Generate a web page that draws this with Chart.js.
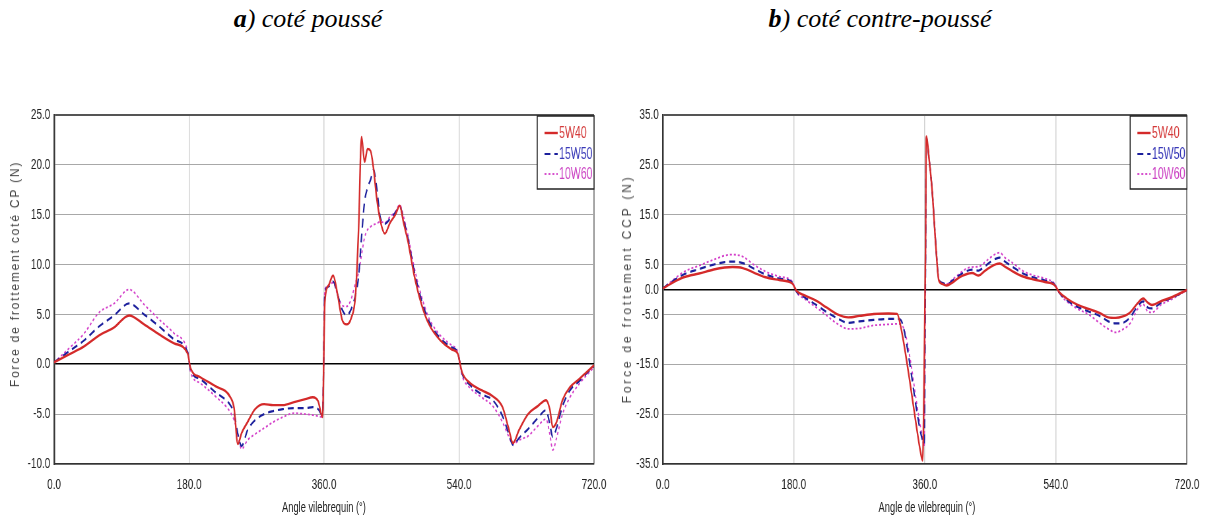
<!DOCTYPE html>
<html>
<head>
<meta charset="utf-8">
<script src="https://cdn.jsdelivr.net/npm/chart.js@4.4.1/dist/chart.umd.min.js"></script>
<style>
  html, body { margin: 0; padding: 0; background: #fff; }
  #page { position: relative; width: 1207px; height: 517px; overflow: hidden; background: #fff; }
  .title { position: absolute; top: 4px; font-family: 'Liberation Serif', 'Times New Roman', serif;
           font-style: italic; font-size: 26px; color: #000; white-space: nowrap; transform: translateX(-50%); }
  .title b { font-weight: bold; }
  .wrap { position: absolute; top: 100px; transform: scaleX(0.66); transform-origin: 0 0; }
  .ytitle { position: absolute; font-family: 'Liberation Sans', Arial, sans-serif; font-size: 12px;
            color: #444; white-space: nowrap; transform: translate(-50%, -50%) rotate(-90deg); }
  .xtitle { position: absolute; top: 498px; font-family: 'Liberation Sans', Arial, sans-serif; font-size: 15px;
            color: #222; white-space: nowrap; transform: translateX(-50%) scaleX(0.62); }
</style>
</head>
<body>
<div id="page">
  <div class="title" style="left:308px"><b>a</b>) coté poussé</div>
  <div class="title" style="left:880px"><b>b</b>) coté contre-poussé</div>

  <div class="wrap" style="left:0px"><canvas id="chartA" width="939" height="417"></canvas></div>
  <div class="wrap" style="left:600px"><canvas id="chartB" width="920" height="417"></canvas></div>

  <div class="ytitle" style="left:15px;top:274px;letter-spacing:1.8px">Force de frottement coté CP (N)</div>
  <div class="ytitle" style="left:627px;top:289px;letter-spacing:2.8px">Force de frottement CCP (N)</div>
  <div class="xtitle" style="left:324px">Angle vilebrequin (°)</div>
  <div class="xtitle" style="left:927px">Angle de vilebrequin (°)</div>
</div>

<script>
// Crank angle (deg) and friction force (N) — thrust side
const anglesA = [0, 20, 40, 60, 80, 100, 120, 140, 160, 178,
  182, 195, 215, 235, 240, 245, 250, 258, 268, 280,
  292, 305, 320, 335, 345, 352, 358, 361, 366, 372,
  378, 384, 390, 396, 402, 406, 410, 414, 418, 422,
  426, 430, 435, 441, 448, 455, 461, 466, 472, 480,
  490, 500, 515, 530, 538, 544, 555, 570, 585, 598,
  606, 612, 620, 632, 645, 656, 661, 665, 670, 678,
  688, 700, 710, 720];
const a5W40 = [0.2, 1.0, 1.8, 2.9, 3.7, 4.9, 4.0, 3.0, 2.1, 1.1,
  -0.4, -1.3, -2.2, -3.3, -4.4, -8.0, -6.9, -5.8, -4.5, -4.0,
  -4.1, -4.1, -3.8, -3.5, -3.3, -3.7, -5.3, 6.2, 7.9, 8.9,
  7.0, 4.5, 4.0, 4.6, 7.0, 13.5, 22.8, 20.3, 21.6, 21.4,
  19.6, 16.8, 14.4, 13.1, 14.2, 15.0, 15.9, 14.2, 12.3, 9.0,
  6.0, 4.0, 2.4, 1.5, 1.1, -0.8, -1.9, -2.6, -3.2, -4.3,
  -6.4, -7.9, -6.6, -5.0, -4.2, -3.6, -4.5, -6.3, -5.8, -3.6,
  -2.3, -1.5, -0.8, -0.1];
const a15W50 = [0.2, 1.3, 2.4, 3.8, 4.9, 6.1, 5.0, 3.8, 2.5, 1.2,
  -0.6, -1.5, -2.8, -4.1, -4.9, -7.0, -8.2, -6.6, -5.6, -5.0,
  -4.7, -4.5, -4.4, -4.4, -4.3, -4.5, -5.1, 7.2, 7.8, 8.3,
  7.0, 5.5, 4.9, 5.5, 7.0, 8.8, 12.8, 16.3, 17.7, 18.5,
  19.5, 17.8, 14.7, 14.1, 14.6, 15.2, 15.8, 14.5, 12.6, 9.4,
  6.4, 4.3, 2.6, 1.7, 1.2, -0.9, -2.1, -3.0, -3.6, -5.2,
  -6.9, -8.1, -7.4, -6.5, -5.4, -4.6, -6.0, -7.3, -6.4, -4.2,
  -2.6, -1.7, -0.9, -0.2];
const a10W60 = [0.2, 1.6, 3.1, 5.2, 6.1, 7.5, 6.0, 4.5, 3.1, 1.3,
  -0.8, -1.9, -3.2, -4.8, -5.6, -7.0, -8.5, -7.6, -7.0, -6.4,
  -5.8, -5.3, -4.9, -5.0, -5.1, -5.2, -5.3, 7.5, 7.9, 8.2,
  7.0, 5.9, 5.8, 6.5, 8.2, 9.2, 11.0, 12.7, 13.5, 13.8,
  14.0, 14.1, 14.3, 14.2, 14.8, 15.3, 16.0, 14.8, 12.9, 9.8,
  6.8, 4.6, 2.9, 1.9, 1.3, -1.1, -2.4, -3.3, -4.2, -5.8,
  -7.2, -8.0, -7.6, -7.2, -6.2, -5.5, -7.0, -8.6, -7.4, -5.0,
  -3.3, -2.0, -1.1, -0.3];

// Crank angle (deg) and friction force (N) — anti-thrust side
const anglesB = [0, 15, 30, 50, 70, 85, 96, 110, 125, 140,
  160, 178, 184, 195, 210, 225, 240, 255, 270, 290,
  310, 322, 327, 332, 340, 348, 354, 357, 359, 361,
  362, 366, 370, 375, 379, 383, 390, 398, 407, 416,
  425, 434, 442, 450, 458, 463, 470, 480, 495, 510,
  525, 538, 545, 555, 570, 585, 600, 612, 622, 632,
  642, 652, 660, 666, 672, 685, 700, 710, 720];
const b5W40 = [0.2, 1.5, 2.5, 3.2, 4.0, 4.4, 4.5, 4.3, 3.4, 2.5,
  1.9, 1.2, -0.3, -1.2, -2.2, -3.6, -5.0, -5.6, -5.3, -4.9,
  -4.8, -4.9, -7.5, -11.5, -19.0, -27.0, -32.5, -34.3, -18.0, 8.0,
  30.7, 26.0, 20.0, 9.0, 2.0, 1.2, 0.8, 1.4, 2.4, 3.0,
  3.3, 2.8, 3.7, 4.5, 5.1, 5.2, 4.6, 3.7, 2.6, 2.0,
  1.5, 0.9, -0.6, -1.8, -3.1, -3.9, -4.7, -5.6, -5.7, -5.4,
  -4.6, -2.8, -1.8, -2.6, -3.1, -2.3, -1.5, -0.8, -0.1];
const b15W50 = [0.2, 1.8, 3.1, 4.1, 5.0, 5.5, 5.6, 5.3, 4.2, 3.1,
  2.2, 1.4, -0.5, -1.6, -3.0, -4.5, -5.8, -6.7, -6.4, -6.1,
  -5.9, -5.9, -6.1, -8.5, -15.5, -23.5, -28.5, -30.3, -31.0, 5.0,
  30.4, 26.0, 20.0, 9.2, 2.2, 1.4, 1.0, 1.8, 2.8, 3.6,
  4.0, 3.8, 4.6, 5.5, 6.2, 6.4, 5.6, 4.6, 3.2, 2.4,
  1.8, 1.0, -0.7, -2.1, -3.5, -4.4, -5.3, -6.4, -6.8, -6.7,
  -5.6, -3.4, -2.4, -3.6, -3.8, -2.6, -1.6, -0.9, -0.1];
const b10W60 = [0.2, 2.0, 3.6, 4.8, 6.0, 6.8, 7.0, 6.6, 5.0, 3.7,
  2.6, 1.6, -0.6, -1.9, -3.5, -5.2, -6.9, -7.9, -7.8, -7.2,
  -7.0, -6.9, -7.0, -8.2, -14.0, -22.0, -27.5, -30.0, -31.5, 5.0,
  30.2, 26.0, 20.0, 9.2, 2.2, 1.4, 1.1, 2.0, 3.1, 4.1,
  4.5, 4.6, 5.4, 6.4, 7.2, 7.4, 6.4, 5.4, 3.7, 2.8,
  2.2, 1.2, -0.8, -2.4, -3.9, -5.0, -6.7, -7.9, -8.6, -8.0,
  -6.8, -4.0, -3.0, -4.4, -4.6, -3.0, -1.9, -1.0, -0.1];

const oilLabels = ['5W40', '15W50', '10W60'];
const xTicks = [0, 180, 360, 540, 720];
const yTicksA = [-10, -5, 0, 5, 10, 15, 20, 25];
const yTicksB = [-35, -25, -15, -5, 0, 5, 15, 25, 35];

const lineStyles = [
  { color: '#d42a2a', width: 2.4, dash: [],     text: '#d43a3a' },
  { color: '#1b1f9c', width: 2.2, dash: [9, 6], text: '#3a3ab8' },
  { color: '#d33fc9', width: 1.8, dash: [3, 3], text: '#cc44c4' }
];
const FONT = "'Liberation Sans', Arial, sans-serif";

// Boxed legend in the top-right corner of the plot area
const boxLegend = {
  id: 'boxLegend',
  afterDatasetsDraw(chart, args, opts) {
    const { ctx, chartArea: a } = chart;
    const x0 = a.right - opts.width, y0 = a.top + 1;
    ctx.save();
    ctx.fillStyle = '#fff';
    ctx.fillRect(x0, y0, opts.width, opts.height);
    ctx.strokeStyle = '#222';
    ctx.lineWidth = 1.5;
    ctx.strokeRect(x0, y0, opts.width, opts.height);
    chart.data.datasets.forEach((ds, i) => {
      const y = y0 + opts.rows[i];
      ctx.strokeStyle = ds.borderColor;
      ctx.lineWidth = ds.borderWidth;
      ctx.setLineDash(ds.borderDash || []);
      ctx.beginPath();
      ctx.moveTo(x0 + 11, y);
      ctx.lineTo(x0 + 31, y);
      ctx.stroke();
      ctx.setLineDash([]);
      ctx.fillStyle = lineStyles[i].text;
      ctx.font = '16px ' + FONT;
      ctx.textBaseline = 'middle';
      ctx.fillText(ds.label, x0 + 33, y + 1);
    });
    ctx.restore();
  }
};

function buildChart(id, angles, seriesList, yTicks, yAxisWidth, padRight, padTop) {
  const yMin = yTicks[0], yMax = yTicks[yTicks.length - 1];
  const datasets = seriesList.map((vals, i) => ({
    label: oilLabels[i],
    data: angles.map((a, k) => ({ x: a, y: vals[k] })),
    borderColor: lineStyles[i].color,
    borderWidth: lineStyles[i].width,
    borderDash: lineStyles[i].dash,
    pointRadius: 0,
    fill: false,
    cubicInterpolationMode: 'monotone'
  }));
  return new Chart(document.getElementById(id), {
    type: 'line',
    data: { datasets },
    plugins: [boxLegend],
    options: {
      responsive: false,
      animation: false,
      devicePixelRatio: 1,
      layout: { padding: { top: padTop, right: padRight, left: 0, bottom: 0 } },
      plugins: {
        legend: { display: false },
        tooltip: { enabled: false },
        boxLegend: { width: 86, height: 73, rows: [17, 38, 58] }
      },
      scales: {
        x: {
          type: 'linear', min: 0, max: 720,
          afterBuildTicks: ax => { ax.ticks = xTicks.map(v => ({ value: v })); },
          afterFit: ax => { ax.height = 53; },
          ticks: { callback: v => v.toFixed(1), font: { family: FONT, size: 15 }, color: '#222',
                   padding: 12, maxRotation: 0, autoSkip: false },
          grid: {
            drawTicks: false,
            color: c => c.tick.value === 720 ? '#888' : (c.tick.value === 0 ? 'rgba(0,0,0,0)' : '#d2d2d2'),
            lineWidth: c => c.tick.value === 720 ? 2 : 1.5
          },
          border: { color: '#333', width: 1.5 }
        },
        y: {
          min: yMin, max: yMax,
          afterBuildTicks: ax => { ax.ticks = yTicks.map(v => ({ value: v })); },
          afterFit: ax => { ax.width = yAxisWidth; },
          ticks: { callback: v => v.toFixed(1), font: { family: FONT, size: 15 }, color: '#222', padding: 6 },
          grid: {
            drawTicks: false,
            color: c => c.tick.value === 0 ? '#000' : (c.tick.value === yMax ? '#555' : '#a8a8a8'),
            lineWidth: c => c.tick.value === 0 ? 1.6 : (c.tick.value === yMax ? 2 : 1)
          },
          border: { color: '#333', width: 2.5 }
        }
      }
    }
  });
}

buildChart('chartA', anglesA, [a5W40, a15W50, a10W60], yTicksA, 82, 39, 14);
buildChart('chartB', anglesB, [b5W40, b15W50, b10W60], yTicksB, 95, 28, 13);
</script>
</body>
</html>
